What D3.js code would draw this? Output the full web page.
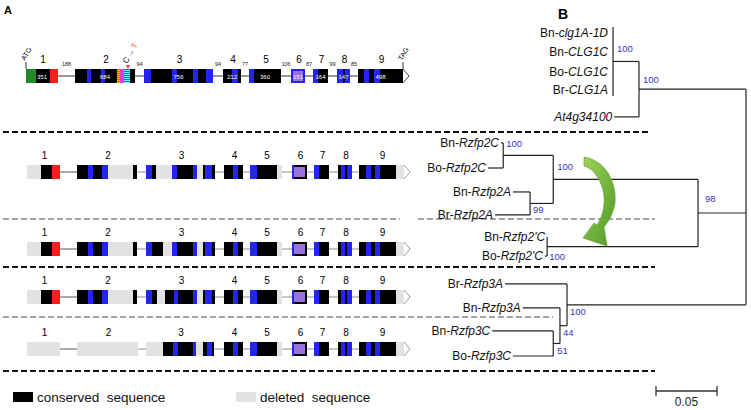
<!DOCTYPE html>
<html><head><meta charset="utf-8">
<script src="https://cdn.jsdelivr.net/npm/d3@7"></script>
<style>body{margin:0;background:#fff}svg{display:block;font-family:"Liberation Sans",Arial,sans-serif}</style>
</head><body><svg id="c" width="751" height="410"></svg>
<script>
// ---------------- DATA ----------------
const exonNumbers = [1,2,3,4,5,6,7,8,9];
const exonLengths = [351,684,756,212,360,151,164,147,498];
const intronLengths = [188,94,94,77,106,87,99,85];

// gene models: each exon = list of segments [start, end, kind] (relative gene units)
const geneCLG1 = [
 [[0,10,"green"],[10,24,"black"],[24,32,"red"]],
 [[49,61,"black"],[61,65,"blue"],[65,75,"black"],[75,79,"blue"],[79,91,"black"],[91,94,"hatchO"],[94,98,"magenta"],[98,104,"hatchC"],[104,109,"black"]],
 [[118,125,"blue"],[125,146,"black"],[146,151,"blue"],[151,167,"black"],[167,172,"blue"],[172,180,"black"],[180,187,"blue"]],
 [[197,206,"black"],[206,212,"blue"],[212,215,"black"]],
 [[223,228,"blue"],[228,255,"black"]],
 [[265,279,"blue"],[267,277,"purple"]],
 [[287,292,"blue"],[292,302,"black"]],
 [[311,317,"blue"],[317,319,"black"],[319,324,"blue"]],
 [[332,338,"black"],[338,343,"blue"],[343,348,"black"],[348,354,"blue"],[354,377,"black"]]
];
const exon1Rz = [[1,15,"gray"],[15,26,"black"],[26,34,"red"]];
const exon2Rz = [[51,62,"black"],[62,67,"blue"],[67,76,"black"],[76,82,"blue"],[82,107,"gray"],[107,111,"black"]];
const exonTailRz = [
 [[198,207,"black"],[207,212,"blue"],[212,217,"black"]],
 [[224,231,"blue"],[231,251,"black"],[251,256,"gray"]],
 [[266,281,"black"],[266,268,"blue"],[268,279,"purple"]],
 [[288,293,"blue"],[293,303,"black"]],
 [[312,315,"black"],[315,319,"blue"],[319,321,"black"],[321,326,"blue"]],
 [[333,340,"black"],[340,345,"blue"],[345,349,"black"],[349,354,"blue"],[354,370,"black"],[370,378,"gray"]]
];
const geneRzfp2 = [exon1Rz, exon2Rz,
 [[120,126,"blue"],[126,130,"black"],[130,146,"gray"],[146,151,"blue"],[151,167,"black"],[167,171,"blue"],[171,177,"gray"],[177,179,"black"],[179,186,"blue"],[186,189,"black"]],
 ...exonTailRz];
const geneRzfp2p = [exon1Rz, exon2Rz,
 [[120,126,"blue"],[126,137,"black"],[137,146,"gray"],[146,151,"blue"],[151,167,"black"],[167,171,"blue"],[171,177,"gray"],[177,179,"black"],[179,186,"blue"],[186,189,"black"]],
 ...exonTailRz];
const geneRzfp3A = [exon1Rz, exon2Rz,
 [[120,126,"blue"],[126,131,"black"],[131,139,"gray"],[139,148,"black"],[148,152,"blue"],[152,167,"black"],[167,171,"blue"],[171,177,"gray"],[177,179,"black"],[179,186,"blue"],[186,189,"black"]],
 ...exonTailRz];
const geneRzfp3C = [[[1,34,"gray"]], [[51,112,"gray"]],
 [[120,137,"gray"],[137,147,"black"],[147,152,"blue"],[152,167,"black"],[167,170,"blue"],[170,177,"gray"],[177,181,"black"],[181,186,"blue"],[186,188,"black"]],
 ...exonTailRz];
const geneRows = [geneCLG1, geneRzfp2, geneRzfp2p, geneRzfp3A, geneRzfp3C];

// phylogenetic tree
const treeIds = ["root","clgOut","clg","Bn-clg1A-1D","Bn-CLG1C","Bo-CLG1C","Br-CLG1A","At4g34100",
 "rz2","rz2CA","rz2C","Bn-Rzfp2C","Bo-Rzfp2C","rz2A","Bn-Rzfp2A","Br-Rzfp2A","rz2p","Bn-Rzfp2'C","Bo-Rzfp2'C",
 "rz3","Br-Rzfp3A","rz3b","Bn-Rzfp3A","rz3C","Bn-Rzfp3C","Bo-Rzfp3C"];
const treeParents = ["","root","clgOut","clg","clg","clg","clg","clgOut",
 "root","rz2","rz2CA","rz2C","rz2C","rz2CA","rz2A","rz2A","rz2","rz2p","rz2p",
 "root","rz3","rz3","rz3b","rz3b","rz3C","rz3C"];
const treeDists = [0,0.0877,0.109,0.109,0.109,0.109,0.109,0.108,
 0.0393,0.158,0.199,0.2008,0.2115,0.177,0.191,0.2057,0.163,0.163,0.1648,
 0.1467,0.1975,0.1525,0.183,0.158,0.208,0.191];
const treeSupport = [null,100,100,null,null,null,null,null,
 98,100,100,null,null,99,null,null,100,null,null,
 100,null,44,null,51,null,null];
const leafSlots = [0,0.82,1.68,2.45,3.61,4.73,5.81,6.84,7.83,8.78,9.6,10.8,11.83,12.82,13.9];
const scaleBarValue = 0.05;
const legendLabels = ["conserved  sequence","deleted  sequence"];

// ---------------- DRAW ----------------
const svg = d3.select("#c");
const colors = {green:"#23882a",black:"#000",red:"#ff1c1c",blue:"#2424f2",gray:"#e2e2e2",magenta:"#e23be6",purple:"#9c72d8"};
const defs = svg.append("defs");
function stripe(id,bg,fg){
  const p = defs.append("pattern").attr("id",id).attr("width",4).attr("height",2).attr("patternUnits","userSpaceOnUse");
  p.append("rect").attr("width",4).attr("height",2).attr("fill",bg);
  p.append("rect").attr("width",4).attr("height",1).attr("fill",fg);
}
stripe("hatchO","#e23be6","#ffb020");
stripe("hatchC","#1d6fa8","#5fffff");
const grad = defs.append("linearGradient").attr("id","garrow").attr("x1",0).attr("y1",0).attr("x2",1).attr("y2",1);
grad.append("stop").attr("offset","0%").attr("stop-color","#9ed25a");
grad.append("stop").attr("offset","100%").attr("stop-color","#4f9a28");

const xg = d3.scaleLinear().domain([0,384]).range([26,410]);
const rowTops = [69,165,242,290,342];
const boxH = 14;

geneRows.forEach((gene, r) => {
  const g = svg.append("g");
  const top = rowTops[r];
  const ext = gene.map(ex => [d3.min(ex, s => s[0]), d3.max(ex, s => s[1])]);
  for (let i = 0; i < ext.length - 1; i++) {
    g.append("line").attr("x1", xg(ext[i][1])).attr("x2", xg(ext[i+1][0]))
      .attr("y1", top + boxH/2).attr("y2", top + boxH/2)
      .attr("stroke", r === 0 ? "#333" : (i === 0 ? "#555" : "#8a8a8a")).attr("stroke-width", 1);
  }
  gene.forEach((ex, i) => {
    ex.forEach(s => {
      const inset = s[2] === "purple" ? 2 : 0;
      g.append("rect").attr("x", xg(s[0])).attr("width", xg(s[1]) - xg(s[0]))
        .attr("y", top + inset).attr("height", boxH - 2*inset)
        .attr("fill", s[2].startsWith("hatch") ? `url(#${s[2]})` : colors[s[2]]);
    });
    g.append("text").attr("x", (xg(ext[i][0]) + xg(ext[i][1]))/2 + 1).attr("y", top - 6)
      .attr("text-anchor","middle").attr("font-size", 10).text(exonNumbers[i]);
  });
  const e = xg(ext[ext.length-1][1]);
  g.append("path").attr("d", `M${e},${top}L${e+6},${top+boxH/2}L${e},${top+boxH}`)
    .attr("fill","#fff").attr("stroke", r === 0 ? "#444" : "#999").attr("stroke-width",1);
  if (r === 0) {
    gene.forEach((ex, i) => {
      g.append("text").attr("x", (xg(ext[i][0]) + xg(ext[i][1]))/2).attr("y", top + 9.5)
        .attr("text-anchor","middle").attr("font-size", 6).attr("fill","#fff").text(exonLengths[i]);
    });
    intronLengths.forEach((v, i) => {
      g.append("text").attr("x", (xg(ext[i][1]) + xg(ext[i+1][0]))/2).attr("y", top - 3)
        .attr("text-anchor","middle").attr("font-size", 5.5).attr("fill","#222").text(v);
    });
    const s0 = xg(ext[0][0]);
    g.append("line").attr("x1",s0).attr("x2",s0).attr("y1",top-7).attr("y2",top).attr("stroke","#333");
    g.append("text").attr("transform",`translate(${s0-1},${top-8}) rotate(-60)`).attr("font-size",7).text("ATG");
    g.append("line").attr("x1",e).attr("x2",e).attr("y1",top-7).attr("y2",top).attr("stroke","#333");
    g.append("text").attr("transform",`translate(${e-1},${top-8}) rotate(-60)`).attr("font-size",7).text("TAG");
    const mx = xg(102);
    g.append("path").attr("d",`M${mx-2},${top-4}L${mx+2},${top-4}L${mx},${top}Z`).attr("fill","#ff3030");
    const t = g.append("text").attr("transform",`translate(${mx-1},${top-5}) rotate(-60)`).attr("font-size",8);
    t.append("tspan").text("C ");
    t.append("tspan").attr("font-size",7).text("\u2192 ");
    t.append("tspan").attr("fill","#f06a3a").text("T");
  }
});

// dashed separators
const seps = [
  [3,650,132,"#111",2],[3,400,219,"#888",1.6],[418,655,219,"#888",1.6],
  [3,655,267,"#111",2],[3,553,317,"#888",1.6],[3,655,371,"#111",2]
];
seps.forEach(s => svg.append("line").attr("x1",s[0]).attr("x2",s[1]).attr("y1",s[2]).attr("y2",s[2])
  .attr("stroke",s[3]).attr("stroke-width",s[4]).attr("stroke-dasharray","6,3"));

svg.append("text").attr("x",4).attr("y",14).attr("font-size",11).attr("font-weight","bold").text("A");
svg.append("text").attr("x",558).attr("y",19).attr("font-size",14).attr("font-weight","bold").text("B");

// tree
const tdata = treeIds.map((id,i) => ({id, parent: treeParents[i] || null, dist: treeDists[i], support: treeSupport[i]}));
const root = d3.stratify().id(d => d.id).parentId(d => d.parent)(tdata);
const xt = d3.scaleLinear().domain([0,0.2]).range([746,502]);
const yt = d3.scaleLinear().domain([0,13.9]).range([33,356]);
root.leaves().forEach((l,i) => l.y = yt(leafSlots[i]));
root.eachAfter(n => { if (n.children) n.y = (n.children[0].y + n.children[n.children.length-1].y)/2; });
const tg = svg.append("g").attr("stroke","#222").attr("stroke-width",1.2);
root.each(n => {
  const x = xt(n.data.dist);
  if (n.parent) tg.append("line").attr("x1", xt(n.parent.data.dist)).attr("x2", x).attr("y1", n.y).attr("y2", n.y);
  if (n.children) {
    const allZero = n.children.every(c => !c.children && c.data.dist === n.data.dist);
    const pad = allZero ? 6 : 0;
    tg.append("line").attr("x1", x).attr("x2", x)
      .attr("y1", n.children[0].y - pad).attr("y2", n.children[n.children.length-1].y + pad);
  }
});
root.leaves().forEach(l => {
  const name = l.data.id;
  const k = name.indexOf("-");
  const zeroLen = l.data.dist === l.parent.data.dist && l.parent.children.length > 2;
  const t = svg.append("text").attr("x", xt(l.data.dist) - (zeroLen ? 5 : 2)).attr("y", l.y + 4.3)
    .attr("text-anchor","end").attr("font-size",12).attr("fill","#111");
  if (k >= 0) {
    t.append("tspan").text(name.slice(0,k+1));
    t.append("tspan").attr("font-style","italic").text(name.slice(k+1));
  } else t.append("tspan").attr("font-style","italic").text(name);
});
const supOff = {clgOut:[4,-10], clg:[4,-13], rz2:[7,-14], rz2CA:[4,-13], rz2C:[3,-12], rz2A:[3,6], rz2p:[2,10], rz3:[3,7], rz3b:[3,7], rz3C:[4,7]};
root.descendants().filter(n => n.data.support != null).forEach(n => {
  const o = supOff[n.data.id];
  svg.append("text").attr("x", xt(n.data.dist) + o[0]).attr("y", n.y + o[1] + 3.4)
    .attr("font-size",9.5).attr("fill","#3434c8").text(n.data.support);
});

// green duplication arrow
svg.append("path")
  .attr("d","M584,157 C604,160 617,180 615,203 C613,214 609,221 604,227 L607,246 L583,238 L594,223 L597,225 C603,216 606,203 603,190 C599,176 592,168 584,166 Z")
  .attr("fill","url(#garrow)").attr("stroke","#5d9a30").attr("stroke-width",0.6);

// scale bar
const sbx0 = 656, sbx1 = sbx0 + (xt(0) - xt(scaleBarValue)), sby = 391;
const sb = svg.append("g").attr("stroke","#333").attr("stroke-width",1.3);
sb.append("line").attr("x1",sbx0).attr("x2",sbx1).attr("y1",sby).attr("y2",sby);
sb.append("line").attr("x1",sbx0).attr("x2",sbx0).attr("y1",sby-5).attr("y2",sby+5);
sb.append("line").attr("x1",sbx1).attr("x2",sbx1).attr("y1",sby-5).attr("y2",sby+5);
svg.append("text").attr("x",(sbx0+sbx1)/2).attr("y",sby+15).attr("text-anchor","middle").attr("font-size",12).attr("fill","#222").text(scaleBarValue);

// legend
[["#000",13],["#e2e2e2",236]].forEach((d,i) => {
  svg.append("rect").attr("x",d[1]).attr("y",392).attr("width",20).attr("height",10).attr("fill",d[0]);
  svg.append("text").attr("x",d[1]+24).attr("y",402).attr("font-size",13.5).style("white-space","pre").attr("fill","#111").text(legendLabels[i]);
});
</script></body></html>
